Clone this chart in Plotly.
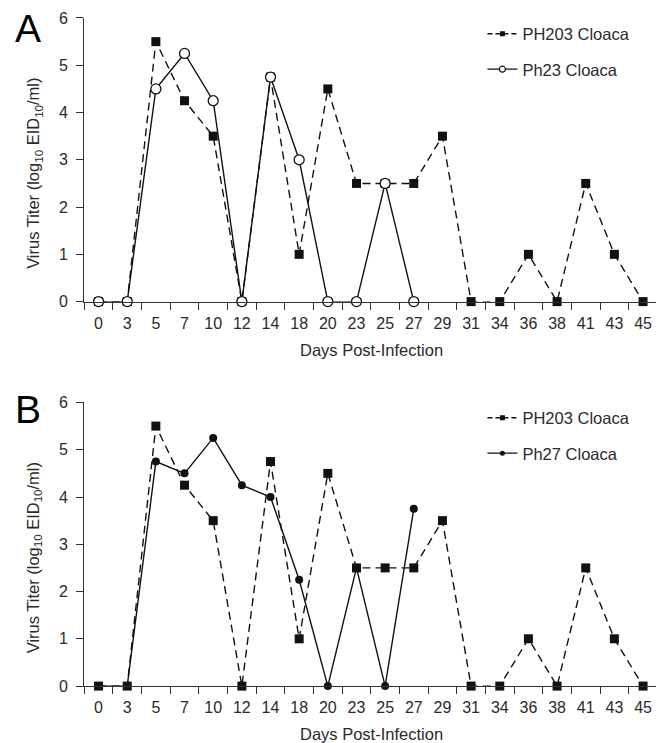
import plotly.graph_objects as go

days = ["0", "3", "5", "7", "10", "12", "14", "18", "20", "23",
        "25", "27", "29", "31", "34", "36", "38", "41", "43", "45"]

ph203 = [0, 0, 5.5, 4.25, 3.5, 0, 4.75, 1, 4.5, 2.5,
         2.5, 2.5, 3.5, 0, 0, 1, 0, 2.5, 1, 0]

ph23_days = ["0", "3", "5", "7", "10", "12", "14", "18", "20", "23", "25", "27"]
ph23 = [0, 0, 4.5, 5.25, 4.25, 0, 4.75, 3, 0, 0, 2.5, 0]

ph27_days = ["0", "3", "5", "7", "10", "12", "14", "18", "20", "23", "25", "27"]
ph27 = [0, 0, 4.75, 4.5, 5.25, 4.25, 4.0, 2.25, 0, 2.5, 0, 3.75]

y_ticks = [0, 1, 2, 3, 4, 5, 6]

FONT = "Liberation Sans, Arial, sans-serif"
TXT = "#2a2a2a"
LINE = "#111111"
AX = "#333333"
DASH = "8px,5px"


def px_x(p):
    return (p - 7) / 663.0


def px_y(p):
    return 1 - (p - 16) / 727.0


fig = go.Figure()


def add_panel(xa, ya, leg, other_days, other_vals, other_name, open_marker):
    fig.add_trace(go.Scatter(
        x=days, y=ph203, mode="lines+markers", name="PH203 Cloaca", showlegend=False,
        line=dict(color=LINE, width=1.4, dash=DASH),
        marker=dict(symbol="square", size=9, color=LINE),
        xaxis=xa, yaxis=ya, cliponaxis=False))
    if open_marker:
        mk = dict(symbol="circle", size=10, color="white", line=dict(color=LINE, width=1.3))
        mk_leg = dict(symbol="circle", size=6, color="white", line=dict(color=LINE, width=1.2))
    else:
        mk = dict(symbol="circle", size=8, color=LINE)
        mk_leg = dict(symbol="circle", size=5, color=LINE)
    fig.add_trace(go.Scatter(
        x=other_days, y=other_vals, mode="lines+markers", name=other_name, showlegend=False,
        line=dict(color=LINE, width=1.4), marker=mk,
        xaxis=xa, yaxis=ya, cliponaxis=False))
    # legend entries (no data points, legend swatches only)
    fig.add_trace(go.Scatter(
        x=[None], y=[None], mode="lines+markers", name="PH203 Cloaca",
        line=dict(color=LINE, width=1.4, dash="5px,3px"),
        marker=dict(symbol="square", size=5, color=LINE),
        xaxis=xa, yaxis=ya, legend=leg, legendgroup=leg + "a"))
    fig.add_trace(go.Scatter(
        x=[None], y=[None], mode="lines+markers", name=other_name,
        line=dict(color=LINE, width=1.4), marker=mk_leg,
        xaxis=xa, yaxis=ya, legend=leg, legendgroup=leg + "b"))


add_panel("x", "y", "legend", ph23_days, ph23, "Ph23 Cloaca", True)
add_panel("x2", "y2", "legend2", ph27_days, ph27, "Ph27 Cloaca", False)

xdom = [px_x(83), px_x(653)]


def xaxis_cfg(anchor):
    return dict(
        domain=xdom, anchor=anchor, type="category", categoryorder="array",
        categoryarray=days, range=[-0.5, 19.45], showline=True, linecolor=AX,
        linewidth=1.3, ticks="outside", ticklen=7, tickcolor=AX, tickwidth=1.2,
        tickson="boundaries", showgrid=False, zeroline=False, ticklabelstandoff=7,
        tickfont=dict(family=FONT, size=16, color=TXT))


def yaxis_cfg(anchor, dom):
    return dict(
        domain=dom, anchor=anchor, range=[0, 6], tickvals=y_ticks, showline=True,
        linecolor=AX, linewidth=1.3, ticks="outside", ticklen=7, tickcolor=AX,
        tickwidth=1.2, showgrid=False, zeroline=False, ticklabelstandoff=5,
        tickfont=dict(family=FONT, size=16, color=TXT))


legend_common = dict(
    xanchor="left", yanchor="top", bgcolor="rgba(0,0,0,0)",
    font=dict(family=FONT, size=16.5, color=TXT), tracegroupgap=11,
    traceorder="grouped", itemwidth=30)

ytitle = "Virus Titer (log<sub>10</sub> EID<sub>10</sub>/ml)"
yfont = dict(family=FONT, size=16.5, color=TXT)
xfont = dict(family=FONT, size=16.5, color=TXT)

fig.update_layout(
    width=665, height=743, paper_bgcolor="white", plot_bgcolor="white",
    margin=dict(l=0, r=0, t=0, b=0),
    xaxis=xaxis_cfg("y"), yaxis=yaxis_cfg("x", [px_y(302), px_y(18)]),
    xaxis2=xaxis_cfg("y2"), yaxis2=yaxis_cfg("x2", [px_y(687), px_y(403)]),
    legend=dict(x=px_x(480), y=px_y(16.5), **legend_common),
    legend2=dict(x=px_x(480), y=px_y(401), **legend_common),
    annotations=[
        dict(text="A", x=px_x(12), y=px_y(29), xref="paper", yref="paper", xanchor="left",
             yanchor="middle", showarrow=False, font=dict(family=FONT, size=39, color="black")),
        dict(text="B", x=px_x(12), y=px_y(410), xref="paper", yref="paper", xanchor="left",
             yanchor="middle", showarrow=False, font=dict(family=FONT, size=39, color="black")),
        dict(text="Days Post-Infection", x=px_x(369), y=px_y(350), xref="paper", yref="paper",
             xanchor="center", yanchor="middle", showarrow=False, font=xfont),
        dict(text="Days Post-Infection", x=px_x(369), y=px_y(735), xref="paper", yref="paper",
             xanchor="center", yanchor="middle", showarrow=False, font=xfont),
        dict(text=ytitle, x=px_x(33), y=px_y(174), xref="paper", yref="paper", textangle=-90,
             xanchor="center", yanchor="middle", showarrow=False, font=yfont),
        dict(text=ytitle, x=px_x(33), y=px_y(559), xref="paper", yref="paper", textangle=-90,
             xanchor="center", yanchor="middle", showarrow=False, font=yfont),
    ],
)

fig.write_html("out.html")
